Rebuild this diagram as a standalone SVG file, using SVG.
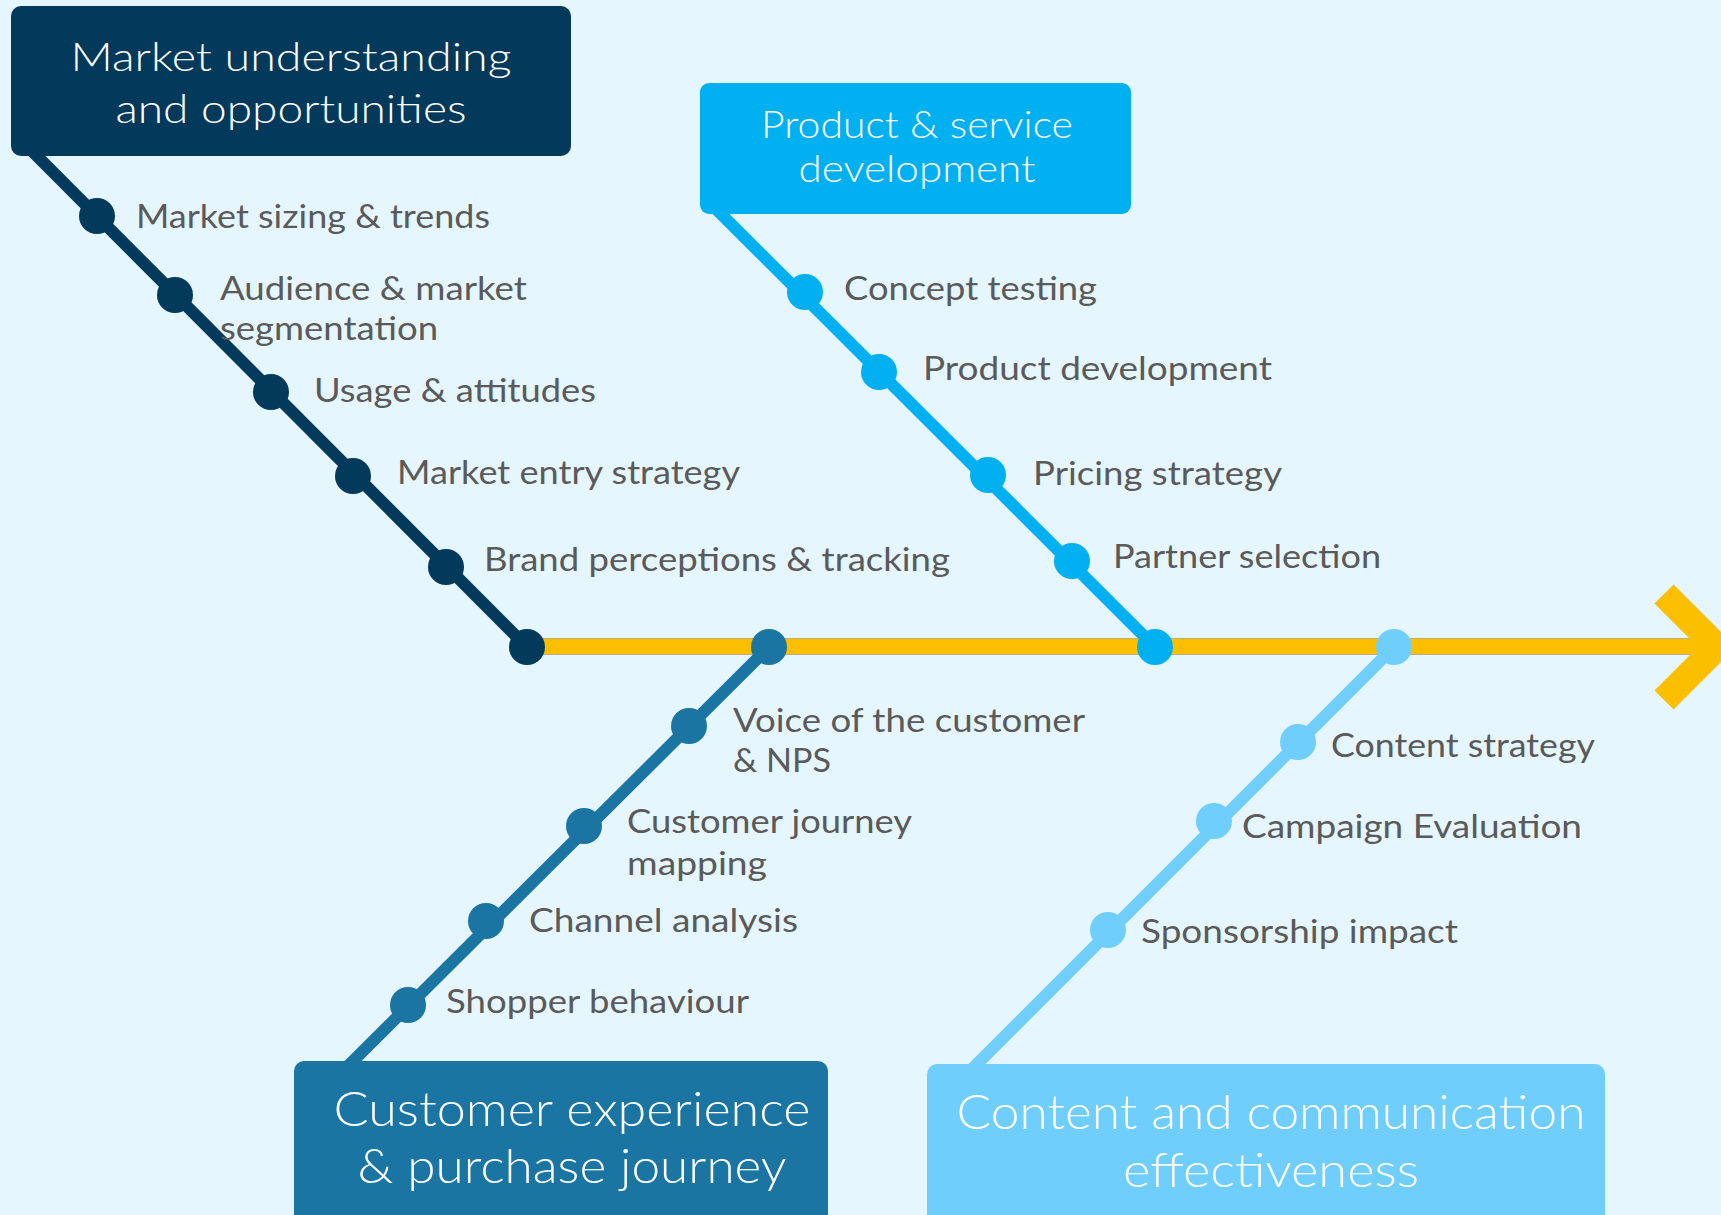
<svg xmlns="http://www.w3.org/2000/svg" width="1721" height="1215" viewBox="0 0 1721 1215">
  <style>
    .lbl { font-family: Lato, "Open Sans", "Liberation Sans", sans-serif; font-size: 32px; fill: #5a5a5a; }
    .ttl { font-family: Lato, "Open Sans", "Liberation Sans", sans-serif; font-weight: 300; fill: #ffffff; text-anchor: middle; }
    .branch { fill: none; stroke-width: 12; stroke-linecap: butt; }
  </style>
  <rect x="0" y="0" width="1721" height="1215" fill="#e5f6fe"/>

  <g id="connectors">
    <line class="branch" x1="20" y1="139" x2="527" y2="647" stroke="#03395a"/>
    <line class="branch" x1="707" y1="200" x2="1155" y2="647" stroke="#00b0f0"/>
    <line class="branch" x1="769" y1="647" x2="346" y2="1068" stroke="#1b75a3"/>
    <line class="branch" x1="1394" y1="647" x2="966" y2="1075" stroke="#70cefd"/>
    <g id="spine">
      <rect x="527" y="638.5" width="1175" height="16" fill="#fcbf00" stroke="#b0a27a" stroke-width="0.8"/>
      <polyline points="1664,594 1717,647 1664,700" fill="none" stroke="#fcbf00" stroke-width="27" stroke-linejoin="miter"/>
    </g>
  </g>

  <g id="node-market">
    <rect x="11" y="6" width="560" height="150" rx="10" fill="#03395a"/>
    <text class="ttl" x="291" y="71" font-size="40" textLength="441" lengthAdjust="spacingAndGlyphs">Market understanding</text>
    <text class="ttl" x="291" y="123" font-size="40" textLength="351" lengthAdjust="spacingAndGlyphs">and opportunities</text>
    <circle cx="97" cy="216" r="18" fill="#03395a"/>
    <circle cx="175" cy="295" r="18" fill="#03395a"/>
    <circle cx="271" cy="392" r="18" fill="#03395a"/>
    <circle cx="353" cy="476" r="18" fill="#03395a"/>
    <circle cx="446" cy="567" r="18" fill="#03395a"/>
    <circle cx="527" cy="647" r="18" fill="#03395a"/>
    <text class="lbl" x="136" y="228" textLength="354" lengthAdjust="spacingAndGlyphs">Market sizing &amp; trends</text>
    <text class="lbl" x="220" y="300" textLength="307" lengthAdjust="spacingAndGlyphs">Audience &amp; market</text>
    <text class="lbl" x="220" y="340" textLength="218" lengthAdjust="spacingAndGlyphs">segmentation</text>
    <text class="lbl" x="314" y="402" textLength="282" lengthAdjust="spacingAndGlyphs">Usage &amp; attitudes</text>
    <text class="lbl" x="397" y="484" textLength="343" lengthAdjust="spacingAndGlyphs">Market entry strategy</text>
    <text class="lbl" x="484" y="571" textLength="466" lengthAdjust="spacingAndGlyphs">Brand perceptions &amp; tracking</text>
  </g>

  <g id="node-product">
    <rect x="700" y="83" width="431" height="131" rx="9" fill="#00b0f0"/>
    <text class="ttl" x="917" y="138" font-size="38" textLength="312" lengthAdjust="spacingAndGlyphs">Product &amp; service</text>
    <text class="ttl" x="917" y="182" font-size="38" textLength="237" lengthAdjust="spacingAndGlyphs">development</text>
    <circle cx="805" cy="292" r="18" fill="#00b0f0"/>
    <circle cx="879" cy="372" r="18" fill="#00b0f0"/>
    <circle cx="988" cy="475" r="18" fill="#00b0f0"/>
    <circle cx="1072" cy="561" r="18" fill="#00b0f0"/>
    <circle cx="1155" cy="647" r="18" fill="#00b0f0"/>
    <text class="lbl" x="844" y="300" textLength="253" lengthAdjust="spacingAndGlyphs">Concept testing</text>
    <text class="lbl" x="923" y="380" textLength="349" lengthAdjust="spacingAndGlyphs">Product development</text>
    <text class="lbl" x="1033" y="485" textLength="249" lengthAdjust="spacingAndGlyphs">Pricing strategy</text>
    <text class="lbl" x="1113" y="568" textLength="268" lengthAdjust="spacingAndGlyphs">Partner selection</text>
  </g>

  <g id="node-customer">
    <rect x="294" y="1061" width="534" height="170" rx="10" fill="#1b75a3"/>
    <text class="ttl" x="572" y="1126" font-size="47" textLength="477" lengthAdjust="spacingAndGlyphs">Customer experience</text>
    <text class="ttl" x="572" y="1183" font-size="47" textLength="429" lengthAdjust="spacingAndGlyphs">&amp; purchase journey</text>
    <circle cx="769" cy="647" r="18" fill="#1b75a3"/>
    <circle cx="689" cy="726" r="18" fill="#1b75a3"/>
    <circle cx="584" cy="826" r="18" fill="#1b75a3"/>
    <circle cx="486" cy="921" r="18" fill="#1b75a3"/>
    <circle cx="408" cy="1005" r="18" fill="#1b75a3"/>
    <text class="lbl" x="733" y="732" textLength="352" lengthAdjust="spacingAndGlyphs">Voice of the customer</text>
    <text class="lbl" x="733" y="772" textLength="98" lengthAdjust="spacingAndGlyphs">&amp; NPS</text>
    <text class="lbl" x="627" y="833" textLength="285" lengthAdjust="spacingAndGlyphs">Customer journey</text>
    <text class="lbl" x="627" y="875" textLength="140" lengthAdjust="spacingAndGlyphs">mapping</text>
    <text class="lbl" x="529" y="932" textLength="269" lengthAdjust="spacingAndGlyphs">Channel analysis</text>
    <text class="lbl" x="446" y="1013" textLength="303" lengthAdjust="spacingAndGlyphs">Shopper behaviour</text>
  </g>

  <g id="node-content">
    <rect x="927" y="1064" width="678" height="170" rx="10" fill="#70cefd"/>
    <text class="ttl" x="1271" y="1129" font-size="47" textLength="629" lengthAdjust="spacingAndGlyphs">Content and communication</text>
    <text class="ttl" x="1271" y="1187" font-size="47" textLength="296" lengthAdjust="spacingAndGlyphs">effectiveness</text>
    <circle cx="1394" cy="647" r="18" fill="#70cefd"/>
    <circle cx="1298" cy="742" r="18" fill="#70cefd"/>
    <circle cx="1214" cy="821" r="18" fill="#70cefd"/>
    <circle cx="1108" cy="930" r="18" fill="#70cefd"/>
    <text class="lbl" x="1331" y="757" textLength="264" lengthAdjust="spacingAndGlyphs">Content strategy</text>
    <text class="lbl" x="1242" y="838" textLength="340" lengthAdjust="spacingAndGlyphs">Campaign Evaluation</text>
    <text class="lbl" x="1141" y="943" textLength="317" lengthAdjust="spacingAndGlyphs">Sponsorship impact</text>
  </g>
</svg>
